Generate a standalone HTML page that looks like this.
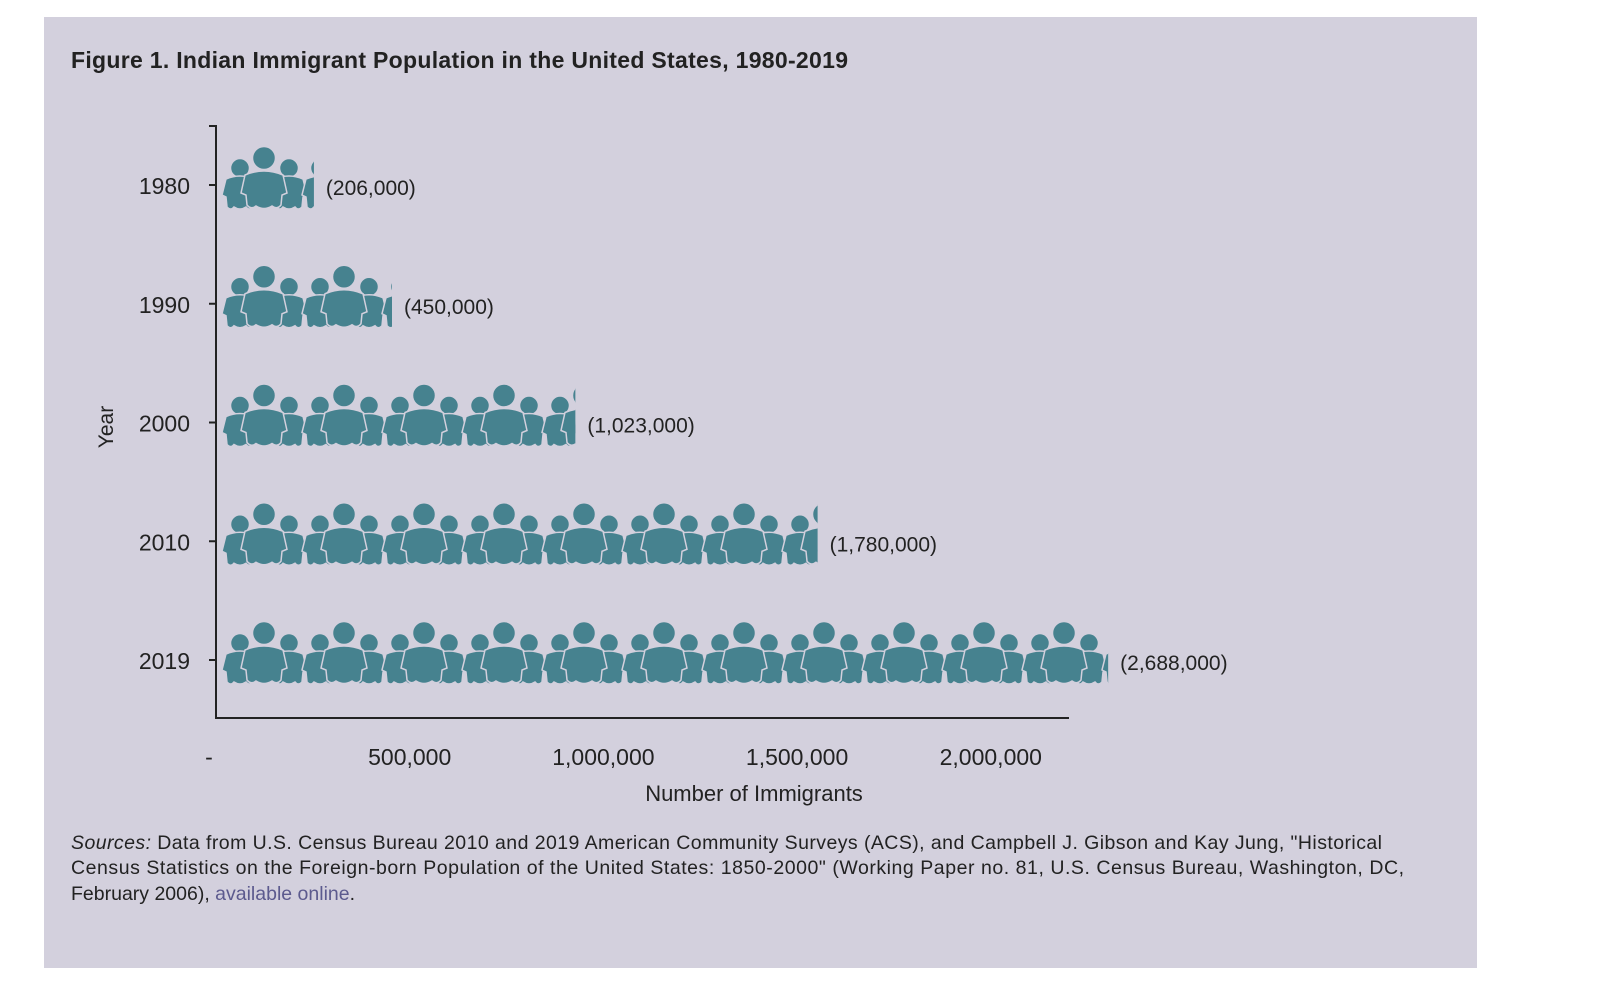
<!DOCTYPE html>
<html><head><meta charset="utf-8">
<style>
html,body{margin:0;padding:0;background:#fff;width:1600px;height:1001px;overflow:hidden}
svg{display:block;font-family:"Liberation Sans",sans-serif}
</style></head>
<body>
<svg id="chart" width="1600" height="1001" viewBox="0 0 1600 1001">
<defs>
<g id="grp">
  <g fill="#46828f" stroke="#d3d0dd" stroke-width="1.5">
    <circle cx="19" cy="-17" r="9.5"/>
    <path d="M5,-6 Q19,-12 33,-6 L37,10 L33,12 L32,22 Q28,26 25,22 Q19,26 13,22 Q10,26 6,22 L5,12 L1,10 Z"/>
    <circle cx="68" cy="-17" r="9.5"/>
    <path d="M54,-6 Q68,-12 82,-6 L86,10 L82,12 L81,22 Q77,26 74,22 Q68,26 62,22 Q59,26 55,22 L54,12 L50,10 Z"/>
    <circle cx="43" cy="-27" r="11.5"/>
    <path d="M24,-10 Q43,-18 62,-10 L66,8 L61,10 L60,20 Q56,25 51,21 Q43,26 35,21 Q30,25 26,20 L25,10 L20,8 Z"/>
  </g>
</g>
</defs>
<rect x="44" y="17" width="1433" height="951" fill="#d3d0dd"/>
<text x="71" y="68" font-size="23" font-weight="bold" fill="#222" textLength="777">Figure 1. Indian Immigrant Population in the United States, 1980-2019</text>
<g id="plot"></g>
<text x="754" y="801" font-size="22" fill="#222" text-anchor="middle">Number of Immigrants</text>
<text transform="translate(113,427) rotate(-90)" font-size="21" fill="#222" text-anchor="middle">Year</text>
<g font-size="19.5" fill="#222">
<text x="71" y="849" textLength="1311"><tspan font-style="italic">Sources:</tspan> Data from U.S. Census Bureau 2010 and 2019 American Community Surveys (ACS), and Campbell J. Gibson and Kay Jung, "Historical</text>
<text x="71" y="874" textLength="1333">Census Statistics on the Foreign-born Population of the United States: 1850-2000" (Working Paper no. 81, U.S. Census Bureau, Washington, DC,</text>
<text x="71" y="900">February 2006), <tspan fill="#5c5a8e">available online</tspan>.</text>
</g>
</svg>
<script>
const years = ["1980","1990","2000","2010","2019"];
const values = [206000, 450000, 1023000, 1780000, 2688000];
const valueLabels = ["(206,000)","(450,000)","(1,023,000)","(1,780,000)","(2,688,000)"];
const xTicks = [0, 500000, 1000000, 1500000, 2000000];
const xTickLabels = ["-","500,000","1,000,000","1,500,000","2,000,000"];

const NS="http://www.w3.org/2000/svg";
const plot=document.getElementById('plot');
const svg=document.getElementById('chart');
const x0=216, pxPer=193.7/500000;
const xAxis=v=>x0+v*pxPer;
const yTop=126, yBot=718;
const yAxis=i=>185+i*118.75;
const iconW=v=>Math.max(83, 27 + v/1000*0.32); // pictograph length
function mk(tag,attrs,parent){const e=document.createElementNS(NS,tag);for(const k in attrs)e.setAttribute(k,attrs[k]);(parent||plot).appendChild(e);return e;}

const ax=mk('path',{d:`M${x0-7},${yTop} L${x0},${yTop} L${x0},${yBot} L1069,${yBot}`,fill:'none',stroke:'#222','stroke-width':2});



xTicks.forEach((t,i)=>{
  const tx=mk('text',{x:i===0?xAxis(t)-7:xAxis(t),y:765,'font-size':23,fill:'#222','text-anchor':'middle'});
  tx.textContent=xTickLabels[i];
  
  
});

years.forEach((yr,i)=>{
  const yc=yAxis(i);
  const tk=mk('line',{x1:x0-7,x2:x0,y1:yc,y2:yc,stroke:'#222','stroke-width':2});
  
  
  const lb=mk('text',{x:190,y:yc+9,'font-size':23,fill:'#222','text-anchor':'end'});
  lb.textContent=yr;
  
  
  const w=iconW(values[i]);
  const cp=mk('clipPath',{id:'cp'+i},svg.querySelector('defs'));
  mk('rect',{x:221,y:yc-50,width:w,height:100},cp);
  const g=mk('g',{'clip-path':`url(#cp${i})`});
  
  
  for(let gx=221; gx<221+w; gx+=80){
    mk('use',{href:'#grp',x:gx,y:yc},g);
  }
  const vl=mk('text',{x:221+w+12,y:yc+10,'font-size':21,fill:'#222'});
  vl.textContent=valueLabels[i];
  
  
});
</script>
</body></html>
